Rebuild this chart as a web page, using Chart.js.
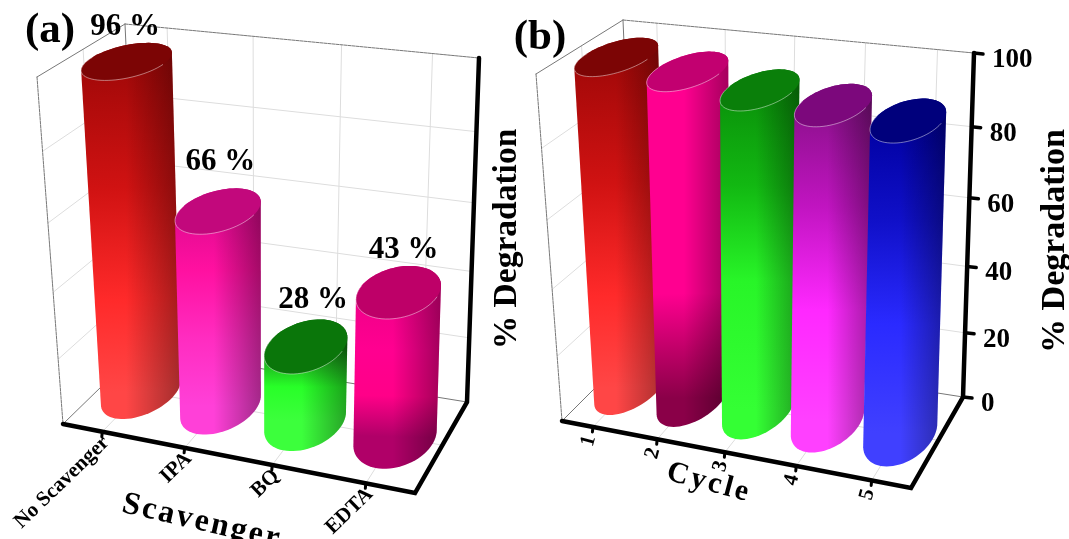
<!DOCTYPE html>
<html>
<head>
<meta charset="utf-8">
<title>Degradation</title>
<script src="https://cdn.jsdelivr.net/npm/chart.js@4"></script>
<style>
    html, body { margin: 0; padding: 0; background: #fff; overflow: hidden; }
    canvas { position: absolute; left: 0; top: 0; }
</style>
</head>
<body>
<canvas id="chartA" width="1069" height="539"></canvas>
<canvas id="chartB" width="1069" height="539"></canvas>
<script>
// Data
const scavengerLabels = ['No Scavenger', 'IPA', 'BQ', 'EDTA'];
// heights as the cylinders are drawn, the printed percentages differ a little from them
const scavengerValues = [98, 59, 23, 43];
const scavengerPrinted = [96, 66, 28, 43];
const cycleLabels = ['1', '2', '3', '4', '5'];
const cycleValues = [98, 96, 93, 91, 89];
const SERIF = '"Liberation Serif", "Times New Roman", serif';

// Colours, [bottom, ..., top] of each cylinder plus its cap
const RED = { cap: '#7c0505', body: ['#ff4646', '#ff2a2a', '#d01212', '#a00808'], stops: [0, 0.28, 0.62, 1] };
const MAGENTA = { cap: '#c2087c', body: ['#ff40d8', '#ff2cc0', '#ff10a0', '#e00a90'], stops: [0, 0.35, 0.7, 1] };
const GREEN = { cap: '#0a760a', body: ['#3cff3c', '#28ff28', '#1fb81f', '#0f7f0f'], stops: [0, 0.45, 0.75, 1] };
const PINK = { cap: '#be0068', body: ['#b00068', '#ff0088', '#ff0090', '#ee0088'], stops: [0, 0.28, 0.6, 1] };
const DEEP_PINK = { cap: '#c20070', body: ['#8a0048', '#c00068', '#ff0090', '#ff0090'], stops: [0, 0.15, 0.32, 1] };
const LIME = { cap: '#0a7f0a', body: ['#34ff34', '#28f528', '#12b812', '#0a900a'], stops: [0, 0.4, 0.7, 1] };
const PURPLE = { cap: '#7c087c', body: ['#ff40ff', '#ff28ff', '#c014c0', '#8a108a'], stops: [0, 0.35, 0.68, 1] };
const BLUE = { cap: '#00007c', body: ['#4040ff', '#2a2aff', '#1010c8', '#0000a0'], stops: [0, 0.35, 0.68, 1] };

// Box corners on the page and the label placement of each panel
const layoutA = {
    fl: [63, 424], fr: [415, 493], br: [467, 402], bl: [140, 349],
    tfl: [37, 77], tfr: [423, 118], tbr: [479, 58], tbl: [125, 24],
    ru: 0.1, rz: 0.34,
    colors: [RED, MAGENTA, GREEN, PINK],
    valueLabels: [[-2, -34], [2, -49], [7, -46], [5, -42]],
    panel: '(a)', panelAt: [50, 31],
    catRotate: -44, catFont: 21, catOff: [4, 8],
    titleAt: [507, 239], titleFont: 33.5,
    xTitle: 'Scavenger', xTitleAt: [202, 522], xTitleRot: 13, xTitleFont: 32, xTitleGap: 2.5,
    showYAxis: false
};
const layoutB = {
    fl: [562, 421], fr: [911, 488], br: [963, 397], bl: [637, 346],
    tfl: [536, 74], tfr: [919, 113], tbr: [974, 53], tbl: [623, 20],
    ru: 0.085, rz: 0.35,
    colors: [RED, DEEP_PINK, LIME, PURPLE, BLUE],
    valueLabels: null,
    panel: '(b)', panelAt: [540, 38],
    catRotate: -75, catFont: 21, catOff: [-3, 9],
    titleAt: [1055, 241], titleFont: 34,
    xTitle: 'Cycle', xTitleAt: [709, 483], xTitleRot: 15, xTitleFont: 30, xTitleGap: 3,
    showYAxis: true
};

// Unit square to quad, see Heckbert's projective mapping
function squareToQuad(p0, p1, p2, p3) {
    const dx1 = p1[0] - p2[0], dx2 = p3[0] - p2[0], sx = p0[0] - p1[0] + p2[0] - p3[0];
    const dy1 = p1[1] - p2[1], dy2 = p3[1] - p2[1], sy = p0[1] - p1[1] + p2[1] - p3[1];
    const det = dx1 * dy2 - dx2 * dy1;
    const g = (sx * dy2 - dx2 * sy) / det;
    const h = (dx1 * sy - sx * dy1) / det;
    const a = p1[0] - p0[0] + g * p1[0], b = p3[0] - p0[0] + h * p3[0];
    const d = p1[1] - p0[1] + g * p1[1], e = p3[1] - p0[1] + h * p3[1];
    return (u, v) => {
        const w = g * u + h * v + 1;
        return [(a * u + b * v + p0[0]) / w, (d * u + e * v + p0[1]) / w];
    };
}

function convexHull(points) {
    const pts = points.slice().sort((p, q) => p[0] - q[0] || p[1] - q[1]);
    const cross = (o, p, q) => (p[0] - o[0]) * (q[1] - o[1]) - (p[1] - o[1]) * (q[0] - o[0]);
    const lower = [], upper = [];
    pts.forEach(p => {
        while (lower.length > 1 && cross(lower[lower.length - 2], lower[lower.length - 1], p) <= 0) lower.pop();
        lower.push(p);
    });
    pts.slice().reverse().forEach(p => {
        while (upper.length > 1 && cross(upper[upper.length - 2], upper[upper.length - 1], p) <= 0) upper.pop();
        upper.push(p);
    });
    return lower.slice(0, -1).concat(upper.slice(0, -1));
}

function tracePath(ctx, points, close) {
    ctx.beginPath();
    points.forEach((p, i) => (i ? ctx.lineTo(p[0], p[1]) : ctx.moveTo(p[0], p[1])));
    if (close) ctx.closePath();
}

function strokeLine(ctx, points, color, width, dash) {
    ctx.save();
    ctx.strokeStyle = color;
    ctx.lineWidth = width;
    ctx.lineCap = 'round';
    ctx.setLineDash(dash || []);
    tracePath(ctx, points, false);
    ctx.stroke();
    ctx.restore();
}

function drawText(ctx, text, x, y, font, rotate, align, spacing) {
    ctx.save();
    ctx.translate(x, y);
    ctx.rotate((rotate || 0) * Math.PI / 180);
    ctx.font = font;
    ctx.fillStyle = '#000';
    ctx.textAlign = align || 'center';
    ctx.textBaseline = 'middle';
    ctx.letterSpacing = (spacing || 0) + 'px';
    ctx.fillText(text, 0, 0);
    ctx.restore();
}

// Draws the box, the cylinders and the labels in perspective from the chart's own scales
function box3dPlugin(lay, printed) {
    const floor = squareToQuad(lay.fl, lay.fr, lay.br, lay.bl);
    const top = squareToQuad(lay.tfl, lay.tfr, lay.tbr, lay.tbl);
    // vertical foreshortening, the upper part of the box is nearer the camera
    const lift = w => w / (w + 1.09 * (1 - w));
    const project = (u, w, z) => {
        const p = floor(u, z), q = top(u, z), f = lift(w);
        return [p[0] + (q[0] - p[0]) * f, p[1] + (q[1] - p[1]) * f];
    };
    const disc = (u, w) => {
        const pts = [];
        for (let t = 0; t < 72; t++) {
            const a = t / 72 * Math.PI * 2;
            pts.push(project(u + lay.ru * Math.cos(a), w, 0.5 + lay.rz * Math.sin(a)));
        }
        return pts;
    };

    return {
        id: 'box3d',
        beforeDatasetsDraw(chart) {
            const ctx = chart.ctx, area = chart.chartArea;
            const xs = chart.scales.x, ys = chart.scales.y;
            const toU = px => (px - area.left) / area.width;
            const toW = px => (area.bottom - px) / area.height;
            const GRID = '#dddddd', EDGE = '#777777';

            // grid on the walls and the floor
            ys.ticks.forEach((t, i) => {
                const w = toW(ys.getPixelForTick(i));
                if (t.value === 0 || t.value === ys.max) return;
                strokeLine(ctx, [project(0, w, 0), project(0, w, 1), project(1, w, 1)], GRID, 1);
            });
            xs.ticks.forEach((t, i) => {
                const u = toU(xs.getPixelForTick(i));
                strokeLine(ctx, [project(u, 0, 0), project(u, 0, 1), project(u, 1, 1)], GRID, 1);
            });
            strokeLine(ctx, [project(1, 0, 0.5), project(0, 0, 0.5), project(0, 1, 0.5)], GRID, 1);

            // thin frame
            strokeLine(ctx, [lay.fl, lay.bl, lay.br], EDGE, 1);
            strokeLine(ctx, [lay.bl, lay.tbl], EDGE, 1);
            strokeLine(ctx, [lay.tfl, lay.tbl], EDGE, 1);
            strokeLine(ctx, [lay.tbl, lay.tbr], EDGE, 1, [3, 1]);
            strokeLine(ctx, [lay.tfl, lay.fl], EDGE, 1, [3, 1]);
        },
        afterDatasetsDraw(chart) {
            const ctx = chart.ctx, area = chart.chartArea;
            const xs = chart.scales.x, ys = chart.scales.y;
            const toU = px => (px - area.left) / area.width;
            const toW = px => (area.bottom - px) / area.height;
            const meta = chart.getDatasetMeta(0);

            // cylinders, left to right so the later ones overlap
            meta.data.forEach((bar, i) => {
                const u = toU(bar.x), w = toW(bar.y), col = lay.colors[i];
                const capPts = disc(u, w);
                const hull = convexHull(disc(u, 0).concat(capPts));
                const c0 = project(u, 0, 0.5), c1 = project(u, w, 0.5);

                const body = ctx.createLinearGradient(c0[0], c0[1], c1[0], c1[1]);
                col.stops.forEach((s, k) => body.addColorStop(s, col.body[k]));
                tracePath(ctx, hull, true);
                ctx.fillStyle = body;
                ctx.fill();

                // shading towards the right side
                const xsHull = hull.map(p => p[0]);
                const minX = Math.min(...xsHull), maxX = Math.max(...xsHull);
                const shade = ctx.createLinearGradient(minX, 0, maxX, 0);
                shade.addColorStop(0, 'rgba(0,0,0,0)');
                shade.addColorStop(0.45, 'rgba(0,0,0,0)');
                shade.addColorStop(1, 'rgba(0,0,0,0.36)');
                tracePath(ctx, hull, true);
                ctx.fillStyle = shade;
                ctx.fill();

                tracePath(ctx, capPts, true);
                ctx.fillStyle = col.cap;
                ctx.fill();
                // light rim on the front half of the cap
                strokeLine(ctx, capPts.slice(36, 72).concat([capPts[0]]), 'rgba(255,255,255,0.45)', 1);
            });

            // heavy axes
            strokeLine(ctx, [lay.fl, lay.fr, lay.br, lay.tbr], '#000', 4.5);

            // category ticks and labels
            xs.ticks.forEach((t, i) => {
                const p = project(toU(xs.getPixelForTick(i)), 0, 0);
                strokeLine(ctx, [p, [p[0] - 0.5, p[1] + 5]], '#000', 3);
                drawText(ctx, xs.getLabelForValue(t.value), p[0] + lay.catOff[0], p[1] + lay.catOff[1],
                    'bold ' + lay.catFont + 'px ' + SERIF, lay.catRotate, 'right');
            });

            // value axis ticks on the right edge
            if (lay.showYAxis) {
                ys.ticks.forEach((t, i) => {
                    const p = project(1, toW(ys.getPixelForTick(i)), 1);
                    strokeLine(ctx, [p, [p[0] + 9, p[1] + 1]], '#000', 3.5);
                    drawText(ctx, String(t.value), p[0] + 18, p[1] + 7, 'bold 27px ' + SERIF, 0, 'left');
                });
            }

            // value labels
            if (lay.valueLabels) {
                meta.data.forEach((bar, i) => {
                    const c = project(toU(bar.x), toW(bar.y), 0.5), n = lay.valueLabels[i];
                    drawText(ctx, printed[i] + ' %', c[0] + n[0], c[1] + n[1], 'bold 31px ' + SERIF);
                });
            }

            drawText(ctx, lay.panel, lay.panelAt[0], lay.panelAt[1], 'bold 43px ' + SERIF);
            drawText(ctx, ys.options.title.text, lay.titleAt[0], lay.titleAt[1], 'bold ' + lay.titleFont + 'px ' + SERIF, -90);
            drawText(ctx, xs.options.title.text, lay.xTitleAt[0], lay.xTitleAt[1], 'bold ' + lay.xTitleFont + 'px ' + SERIF,
                lay.xTitleRot, 'center', lay.xTitleGap);
        }
    };
}

function makeChart(id, labels, values, lay, printed) {
    return new Chart(document.getElementById(id).getContext('2d'), {
        type: 'bar',
        data: {
            labels: labels,
            datasets: [{ data: values, backgroundColor: 'rgba(0,0,0,0)', borderWidth: 0 }]
        },
        options: {
            responsive: false,
            animation: false,
            layout: { padding: 0 },
            plugins: { legend: { display: false }, tooltip: { enabled: false } },
            scales: {
                x: { display: false, offset: true, title: { text: lay.xTitle } },
                y: { display: false, min: 0, max: 100, ticks: { stepSize: 20 }, title: { text: '% Degradation' } }
            }
        },
        plugins: [box3dPlugin(lay, printed)]
    });
}

makeChart('chartA', scavengerLabels, scavengerValues, layoutA, scavengerPrinted);
makeChart('chartB', cycleLabels, cycleValues, layoutB);
</script>
</body>
</html>
